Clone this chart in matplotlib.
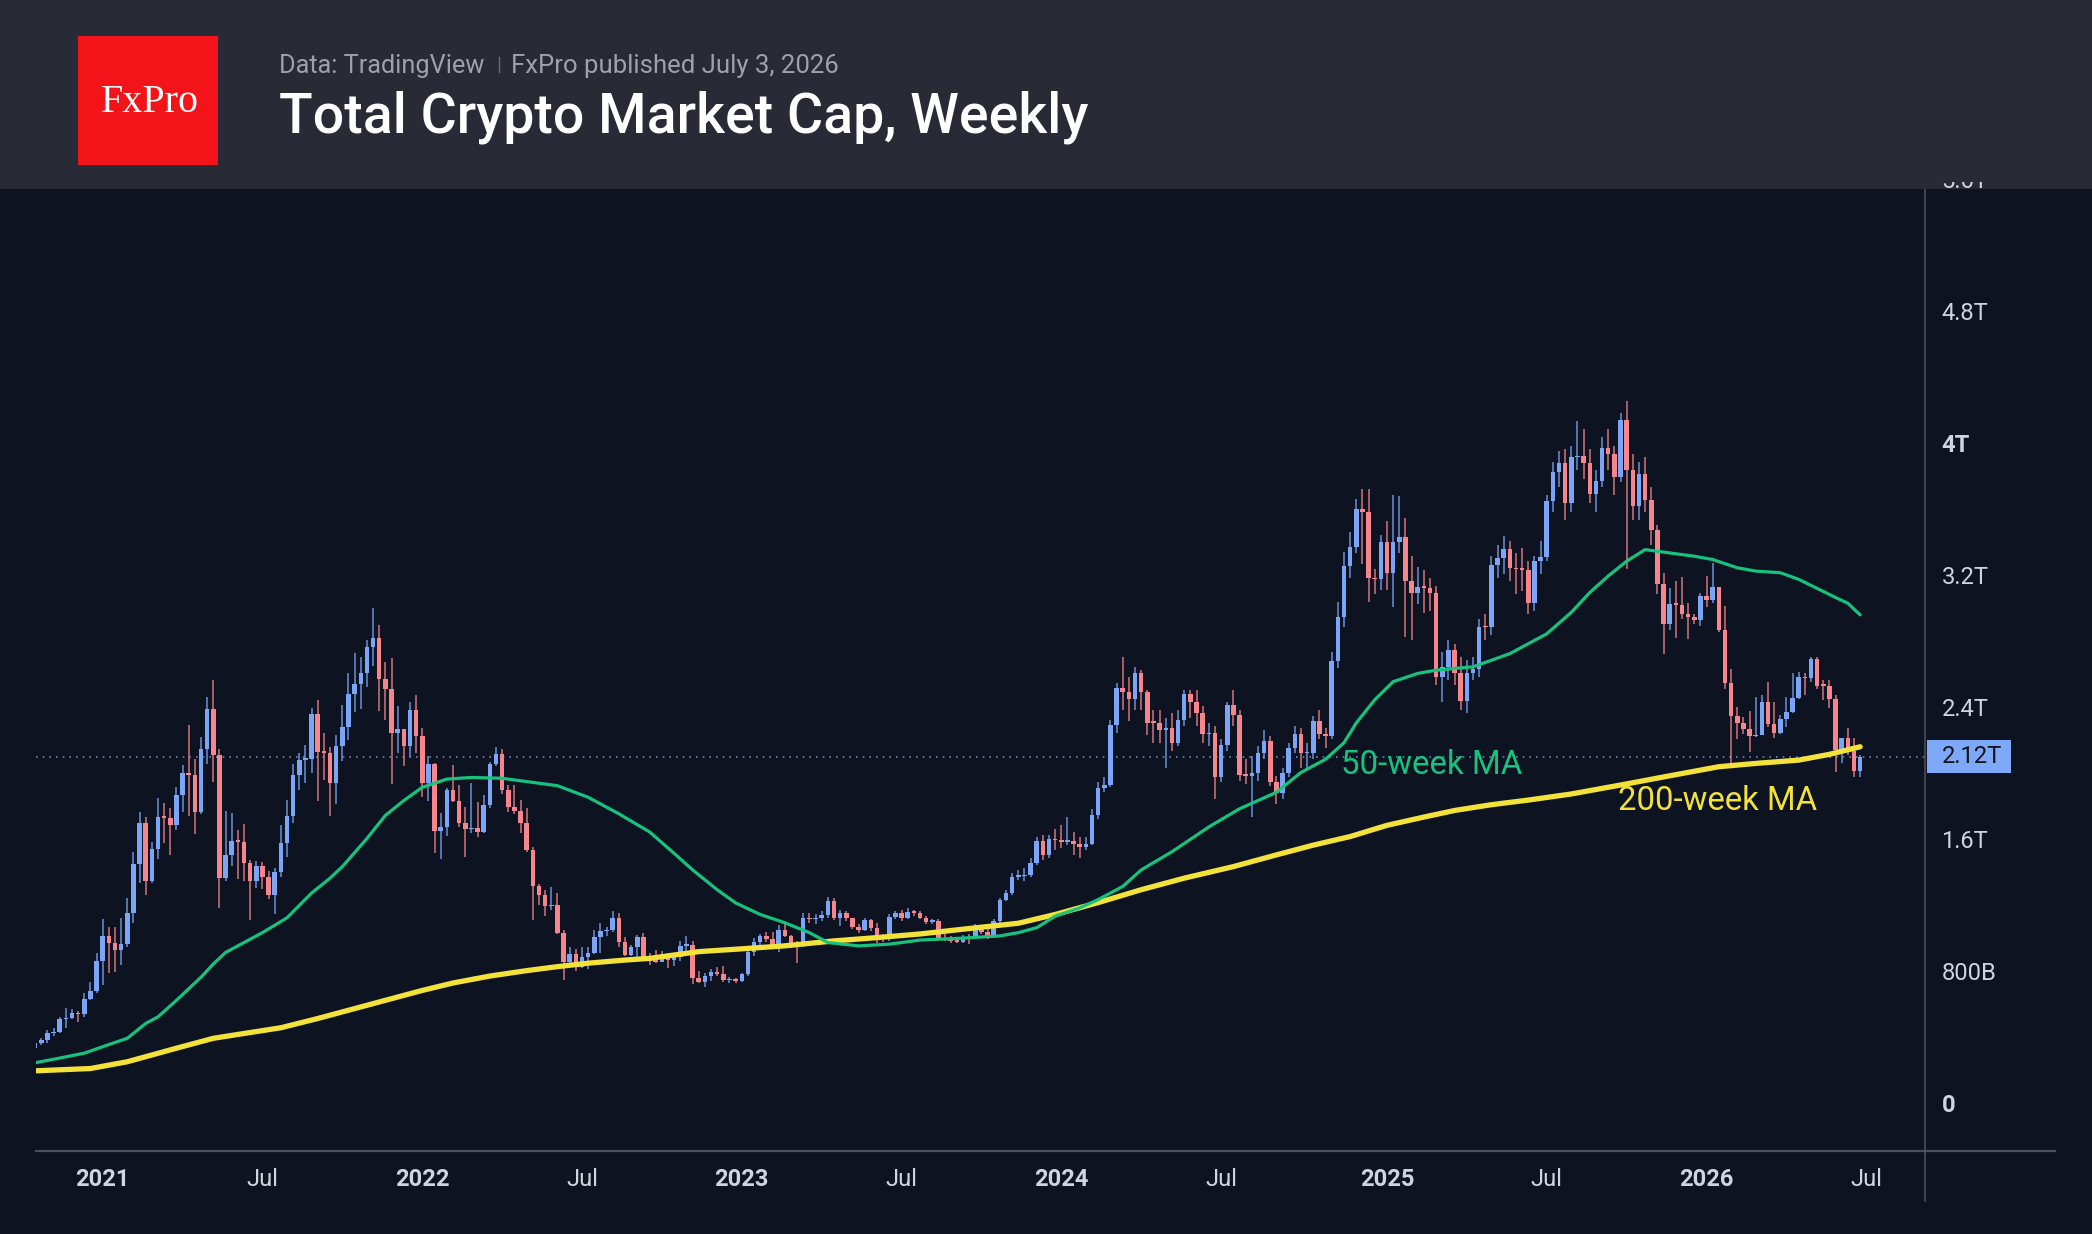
import datetime as dt
import numpy as np
import matplotlib
matplotlib.use("Agg")
import matplotlib.pyplot as plt
from matplotlib import font_manager as fm
from matplotlib.patches import Rectangle
from matplotlib.lines import Line2D
import matplotlib.transforms as mtransforms

# ---------------------------------------------------------------- data
START_WEEK = dt.date(2020, 10, 19)      # first weekly bar
FIRST_OPEN = 0.35                        # trillions USD

closes = [
    0.38, 0.40, 0.441, 0.45, 0.525, 0.535, 0.565, 0.556, 0.65, 0.696,
    0.878, 1.03, 0.99, 0.945, 0.98, 1.17, 1.466, 1.714, 1.361, 1.555,
    1.75, 1.745, 1.704, 1.882, 2.015, 2.005, 1.783, 2.16, 2.406, 2.126,
    1.383, 1.52, 1.605, 1.60, 1.47, 1.361, 1.454, 1.389, 1.28, 1.417,
    1.593, 1.758, 2.005, 2.096, 2.10, 2.372, 2.146, 2.14, 1.958, 2.18,
    2.297, 2.494, 2.554, 2.625, 2.778, 2.837, 2.584, 2.524, 2.261, 2.282,
    2.18, 2.399, 2.241, 1.958, 2.07, 1.668, 1.692, 1.914, 1.849, 1.712,
    1.676, 1.682, 1.66, 1.823, 2.07, 2.13, 1.914, 1.813, 1.785, 1.712,
    1.551, 1.333, 1.278, 1.211, 1.215, 1.046, 0.87, 0.921, 0.84, 0.904,
    0.929, 1.022, 1.06, 1.066, 1.137, 0.995, 0.915, 0.965, 1.022, 0.884,
    0.88, 0.875, 0.905, 0.884, 0.905, 0.971, 0.975, 0.777, 0.753, 0.787,
    0.812, 0.80, 0.763, 0.77, 0.76, 0.797, 0.935, 0.991, 1.029, 1.01,
    0.965, 1.066, 1.029, 0.98, 0.97, 1.137, 1.132, 1.141, 1.157, 1.242,
    1.137, 1.167, 1.137, 1.083, 1.067, 1.129, 1.078, 1.021, 1.009, 1.145,
    1.167, 1.137, 1.178, 1.17, 1.14, 1.117, 1.12, 1.015, 1.01, 1.0,
    0.995, 1.02, 1.015, 1.085, 1.056, 1.026, 1.12, 1.245, 1.292, 1.39,
    1.393, 1.40, 1.47, 1.607, 1.52, 1.615, 1.61, 1.601, 1.605, 1.585,
    1.571, 1.585, 1.762, 1.924, 1.944, 2.308, 2.53, 2.51, 2.465, 2.621,
    2.51, 2.322, 2.32, 2.277, 2.29, 2.197, 2.338, 2.494, 2.449, 2.382,
    2.251, 2.26, 1.995, 2.186, 2.429, 2.368, 2.005, 2.0, 2.019, 2.14,
    2.213, 1.965, 1.894, 2.015, 2.166, 2.253, 2.136, 2.14, 2.334, 2.253,
    2.24, 2.697, 2.96, 3.271, 3.388, 3.614, 3.60, 3.196, 3.19, 3.418,
    3.226, 3.418, 3.448, 3.182, 3.105, 3.146, 3.14, 3.105, 2.60, 2.657,
    2.762, 2.625, 2.455, 2.621, 2.645, 2.903, 2.899, 3.277, 3.317, 3.372,
    3.257, 3.25, 3.247, 3.049, 3.303, 3.328, 3.667, 3.842, 3.897, 3.654,
    3.929, 3.937, 3.897, 3.707, 3.788, 3.984, 3.95, 3.81, 4.155, 3.85,
    3.635, 3.83, 3.67, 3.489, 3.162, 2.92, 3.041, 3.035, 2.978, 2.964,
    2.944, 3.091, 3.065, 3.141, 2.883, 2.564, 2.364, 2.322, 2.283, 2.241,
    2.25, 2.449, 2.314, 2.257, 2.342, 2.386, 2.473, 2.597, 2.59, 2.706,
    2.546, 2.544, 2.463, 2.156, 2.227, 2.152, 2.031, 2.116,
]

highs = [
    0.39, 0.41, 0.46, 0.47, 0.541, 0.592, 0.585, 0.577, 0.682, 0.753,
    0.925, 1.131, 1.086, 1.086, 1.141, 1.258, 1.54, 1.778, 1.752, 1.602,
    1.864, 1.838, 1.803, 1.934, 2.065, 2.308, 2.102, 2.233, 2.479, 2.58,
    2.16, 1.789, 1.777, 1.672, 1.708, 1.49, 1.484, 1.48, 1.425, 1.439,
    1.702, 1.853, 2.071, 2.14, 2.186, 2.409, 2.459, 2.261, 2.177, 2.247,
    2.428, 2.62, 2.742, 2.722, 2.823, 3.014, 2.913, 2.691, 2.712, 2.423,
    2.282, 2.449, 2.487, 2.287, 2.122, 2.076, 1.772, 1.924, 2.065, 1.944,
    1.813, 1.958, 1.843, 1.883, 2.085, 2.177, 2.16, 1.944, 1.944, 1.853,
    1.803, 1.571, 1.345, 1.31, 1.328, 1.288, 1.066, 0.965, 0.949, 0.965,
    0.965, 1.066, 1.111, 1.086, 1.183, 1.167, 1.025, 0.975, 1.036, 1.05,
    0.929, 0.945, 0.941, 0.929, 0.925, 1.001, 1.029, 0.999, 0.82, 0.803,
    0.828, 0.84, 0.848, 0.783, 0.773, 0.803, 0.96, 1.016, 1.04, 1.054,
    1.052, 1.094, 1.10, 1.036, 1.0, 1.167, 1.17, 1.16, 1.18, 1.268,
    1.26, 1.19, 1.18, 1.14, 1.10, 1.14, 1.13, 1.11, 1.04, 1.16,
    1.18, 1.19, 1.20, 1.19, 1.18, 1.15, 1.13, 1.13, 1.04, 1.03,
    1.02, 1.035, 1.04, 1.10, 1.09, 1.07, 1.13, 1.26, 1.31, 1.41,
    1.43, 1.44, 1.50, 1.63, 1.64, 1.64, 1.68, 1.70, 1.75, 1.66,
    1.63, 1.63, 1.80, 1.96, 1.99, 2.34, 2.56, 2.717, 2.60, 2.66,
    2.64, 2.52, 2.40, 2.40, 2.35, 2.38, 2.40, 2.52, 2.52, 2.52,
    2.42, 2.32, 2.30, 2.22, 2.45, 2.52, 2.40, 2.10, 2.12, 2.18,
    2.28, 2.24, 2.0, 2.05, 2.20, 2.30, 2.29, 2.20, 2.36, 2.40,
    2.29, 2.75, 3.05, 3.357, 3.479, 3.675, 3.735, 3.735, 3.25, 3.459,
    3.543, 3.70, 3.694, 3.56, 3.33, 3.267, 3.247, 3.20, 3.15, 2.75,
    2.82, 2.80, 2.72, 2.70, 2.72, 2.95, 2.98, 3.33, 3.40, 3.45,
    3.42, 3.35, 3.38, 3.30, 3.33, 3.42, 3.70, 3.90, 3.97, 3.98,
    4.00, 4.15, 4.10, 3.98, 3.85, 4.05, 4.10, 4.0, 4.20, 4.272,
    3.95, 3.90, 3.93, 3.75, 3.52, 3.23, 3.135, 3.18, 3.202, 3.049,
    2.98, 3.11, 3.21, 3.287, 3.145, 3.029, 2.645, 2.419, 2.358, 2.394,
    2.479, 2.489, 2.57, 2.449, 2.368, 2.479, 2.624, 2.631, 2.624, 2.722,
    2.722, 2.58, 2.58, 2.489, 2.227, 2.287, 2.227, 2.126,
]

lows = [
    0.34, 0.37, 0.38, 0.424, 0.441, 0.47, 0.525, 0.51, 0.542, 0.641,
    0.682, 0.733, 0.807, 0.813, 0.854, 0.965, 1.106, 1.353, 1.278, 1.35,
    1.497, 1.595, 1.52, 1.672, 1.783, 1.759, 1.645, 1.769, 2.071, 1.964,
    1.197, 1.365, 1.454, 1.373, 1.365, 1.127, 1.318, 1.314, 1.252, 1.163,
    1.389, 1.51, 1.712, 1.915, 1.958, 2.015, 1.849, 1.975, 1.758, 1.83,
    2.092, 2.217, 2.389, 2.403, 2.536, 2.665, 2.395, 2.338, 1.95, 2.136,
    2.06, 2.116, 2.136, 1.873, 1.849, 1.531, 1.494, 1.635, 1.839, 1.692,
    1.511, 1.651, 1.631, 1.651, 1.802, 2.06, 1.89, 1.782, 1.768, 1.655,
    1.541, 1.126, 1.215, 1.151, 1.188, 1.042, 0.764, 0.844, 0.82, 0.834,
    0.828, 0.92, 0.925, 1.029, 1.056, 0.965, 0.91, 0.91, 0.893, 0.88,
    0.854, 0.864, 0.87, 0.834, 0.848, 0.88, 0.941, 0.74, 0.747, 0.723,
    0.759, 0.787, 0.753, 0.747, 0.747, 0.753, 0.787, 0.91, 0.975, 0.995,
    0.953, 0.935, 1.025, 0.96, 0.868, 0.965, 1.11, 1.10, 1.12, 1.137,
    1.127, 1.09, 1.12, 1.07, 1.05, 1.06, 1.06, 0.99, 0.995, 1.0,
    1.13, 1.12, 1.13, 1.15, 1.13, 1.10, 1.10, 1.0, 1.0, 0.99,
    0.985, 0.99, 0.98, 1.01, 1.04, 1.01, 1.02, 1.11, 1.24, 1.28,
    1.37, 1.36, 1.39, 1.46, 1.49, 1.50, 1.55, 1.56, 1.58, 1.52,
    1.50, 1.55, 1.58, 1.74, 1.90, 1.93, 2.26, 2.40, 2.33, 2.40,
    2.40, 2.25, 2.20, 2.20, 2.045, 2.15, 2.18, 2.30, 2.35, 2.30,
    2.20, 2.18, 1.86, 1.96, 2.15, 2.30, 1.97, 1.95, 1.75, 1.97,
    2.10, 1.94, 1.83, 1.86, 1.99, 2.14, 2.05, 2.05, 2.10, 2.22,
    2.17, 2.22, 2.65, 2.90, 3.20, 3.35, 3.28, 3.05, 3.10, 3.125,
    3.125, 3.02, 3.35, 2.843, 2.82, 3.04, 2.984, 3.0, 2.55, 2.45,
    2.58, 2.55, 2.40, 2.38, 2.58, 2.60, 2.82, 2.85, 3.20, 3.22,
    3.18, 3.10, 3.12, 2.98, 3.00, 3.22, 3.30, 3.60, 3.75, 3.55,
    3.60, 3.85, 3.80, 3.65, 3.60, 3.75, 3.85, 3.70, 3.78, 3.25,
    3.55, 3.55, 3.60, 3.40, 3.10, 2.738, 2.883, 2.833, 2.95, 2.827,
    2.92, 2.908, 3.025, 3.045, 2.873, 2.524, 2.055, 2.221, 2.251, 2.146,
    2.237, 2.247, 2.298, 2.227, 2.251, 2.298, 2.378, 2.465, 2.489, 2.57,
    2.524, 2.459, 2.409, 2.025, 2.076, 2.126, 1.995, 1.995,
]

# moving averages (week index, value in T)
ma50_weeks = [0, 3, 8, 12, 15, 18, 20, 23, 25, 27, 29, 31, 34, 37, 41, 45, 48,
              50, 54, 57, 60, 63, 67, 71, 76, 80, 85, 90, 95, 100, 104, 107,
              111, 114, 118, 122, 126, 129, 134, 139, 144, 150, 157, 160, 163,
              166, 170, 173, 177, 180, 185, 191, 196, 202, 206, 210, 213, 215,
              218, 221, 225, 228, 234, 240, 246, 250, 253, 256, 259, 262, 266,
              270, 273, 277, 280, 284, 287, 290, 293, 295, 297]
ma50_vals = [0.262, 0.283, 0.32, 0.372, 0.41, 0.50, 0.54, 0.64, 0.71, 0.78,
             0.86, 0.93, 0.99, 1.05, 1.14, 1.29, 1.38, 1.45, 1.62, 1.76, 1.85,
             1.93, 1.98, 1.99, 1.985, 1.965, 1.94, 1.87, 1.77, 1.66, 1.53, 1.43,
             1.31, 1.23, 1.16, 1.11, 1.05, 0.99, 0.97, 0.98, 1.005, 1.015,
             1.03, 1.05, 1.08, 1.15, 1.20, 1.25, 1.33, 1.43, 1.54, 1.69, 1.80,
             1.90, 2.02, 2.10, 2.20, 2.32, 2.46, 2.57, 2.62, 2.64, 2.66, 2.74,
             2.86, 2.99, 3.11, 3.21, 3.30, 3.37, 3.35, 3.33, 3.31, 3.26, 3.24,
             3.23, 3.19, 3.135, 3.08, 3.045, 2.975]

ma200_weeks = [0, 9, 15, 23, 29, 35, 40, 46, 52, 58, 63, 68, 74, 80, 85, 90, 96,
               100, 108, 115, 122, 130, 137, 144, 152, 160, 166, 173, 180, 187,
               195, 202, 208, 214, 220, 226, 231, 237, 243, 250, 258, 266, 274,
               280, 287, 292, 297]
ma200_vals = [0.213, 0.227, 0.268, 0.35, 0.41, 0.445, 0.474, 0.53, 0.59, 0.65,
              0.70, 0.745, 0.787, 0.82, 0.844, 0.865, 0.884, 0.894, 0.935, 0.952,
              0.97, 1.0, 1.02, 1.042, 1.075, 1.107, 1.16, 1.232, 1.31, 1.38, 1.45,
              1.521, 1.58, 1.632, 1.70, 1.75, 1.79, 1.825, 1.853, 1.89, 1.944,
              2.0, 2.055, 2.075, 2.095, 2.13, 2.176]

price_ticks = [0, 0.8, 1.6, 2.4, 3.2, 4.0, 4.8, 5.6]
price_labels = ["0", "800B", "1.6T", "2.4T", "3.2T", "4T", "4.8T", "5.6T"]
bold_price_labels = ["0", "4T"]

date_ticks = [dt.date(2021, 1, 4), dt.date(2021, 7, 5), dt.date(2022, 1, 3),
              dt.date(2022, 7, 4), dt.date(2023, 1, 2), dt.date(2023, 7, 3),
              dt.date(2024, 1, 1), dt.date(2024, 7, 1), dt.date(2025, 1, 6),
              dt.date(2025, 7, 7), dt.date(2026, 1, 5), dt.date(2026, 7, 6)]
date_labels = ["2021", "Jul", "2022", "Jul", "2023", "Jul", "2024", "Jul",
               "2025", "Jul", "2026", "Jul"]

last_price_label = "2.12T"
title = "Total Crypto Market Cap, Weekly"
source_text = "Data: TradingView"
publish_text = "FxPro published July 3, 2026"
logo_text = "FxPro"
ma50_label = "50-week MA"
ma200_label = "200-week MA"

# ---------------------------------------------------------------- style
W, H, DPI = 2092, 1234, 100
BG = "#0d1320"
HEADER = "#282b36"
LOGO_RED = "#f21418"
UP = "#7ba5f7"
DOWN = "#f7868c"
GREEN = "#17c27f"
YELLOW = "#f3e23a"
AXIS = "#4b4f5a"
TICK_TXT = "#d1d4dc"
SUB_TXT = "#9ea1aa"


def has_font(name):
    try:
        fm.findfont(fm.FontProperties(family=name), fallback_to_default=False)
        return True
    except Exception:
        return False


SANS = "Roboto" if has_font("Roboto") else "DejaVu Sans"
NARROW = "Liberation Sans Narrow" if has_font("Liberation Sans Narrow") else SANS
SERIF = "Liberation Serif" if has_font("Liberation Serif") else "DejaVu Serif"
plt.rcParams["font.family"] = [SANS, "DejaVu Sans"]


def fx(px):
    return px / W


def fy(py):
    return 1 - py / H


fig = plt.figure(figsize=(W / DPI, H / DPI), dpi=DPI, facecolor=BG)
renderer = fig.canvas.get_renderer()


def fit_width(t, target_px):
    bb = t.get_window_extent(renderer)
    if bb.width > 0:
        t.set_fontsize(t.get_fontsize() * target_px / bb.width)
    return t


# plot area in pixels
PX_L, PX_R, PX_T, PX_B = 36, 1925, 189, 1151
ax = fig.add_axes([fx(PX_L), fy(PX_B), (PX_R - PX_L) / W, (PX_B - PX_T) / H])
ax.set_facecolor(BG)
for s in ax.spines.values():
    s.set_visible(False)
ax.set_xticks([])
ax.set_yticks([])

BAR_PX = 6.145          # pixel distance between weekly bars
BAR0_PX = 35.1          # pixel position of first bar
ZERO_PX = 1106          # pixel row of value 0
PX_PER_T = 165.1
ax.set_xlim((PX_L - BAR0_PX) / BAR_PX, (PX_R - BAR0_PX) / BAR_PX)
ax.set_ylim((ZERO_PX - PX_B) / PX_PER_T, (ZERO_PX - PX_T) / PX_PER_T)

# ---------------------------------------------------------------- candles
C = np.array(closes)
Hh = np.array(highs)
Ll = np.array(lows)
O = np.r_[FIRST_OPEN, C[:-1]]
idx = np.arange(len(C))
up = C >= O
cols = np.where(up, UP, DOWN)

ax.vlines(idx, Ll, Hh, colors=cols, linewidth=1.1, alpha=0.85, zorder=2)
body_lo = np.minimum(O, C)
body_h = np.maximum(np.abs(C - O), 0.009)
ax.bar(idx, body_h, bottom=body_lo, width=0.74, color=cols,
       edgecolor="none", linewidth=0, zorder=3)

# moving averages
ax.plot(ma200_weeks, ma200_vals, color=YELLOW, lw=3.8, zorder=5,
        solid_capstyle="round", solid_joinstyle="round")
ax.plot(ma50_weeks, ma50_vals, color=GREEN, lw=2.3, zorder=6,
        solid_capstyle="round", solid_joinstyle="round")

# last price dotted line
ax.axhline(C[-1], color="#6f81aa", lw=1.2, ls=(0, (1, 3)), zorder=1)

# MA labels
t50 = fig.text(fx(1341), fy(765), ma50_label, color=GREEN, fontsize=21,
               ha="left", va="center", zorder=8)
fit_width(t50, 181)
t200 = fig.text(fx(1618), fy(801), ma200_label, color=YELLOW, fontsize=21,
                ha="left", va="center", zorder=8)
fit_width(t200, 199)

# ---------------------------------------------------------------- price scale
lab_tr = mtransforms.blended_transform_factory(ax.transAxes, ax.transData)
lab_x = (1941.5 - PX_L) / (PX_R - PX_L)
ref = ax.text(lab_x, price_ticks[1], price_labels[1], transform=lab_tr,
              color=TICK_TXT, fontsize=16, ha="left", va="center", clip_on=False)
fit_width(ref, 55)
psize = ref.get_fontsize()
ref.remove()
# clip region for labels partly hidden by the header
clip_box = mtransforms.Bbox.from_extents(0, 0, W, H - 182)
for v, lab in zip(price_ticks, price_labels):
    t = fig.text(fx(1941.5), fy(ZERO_PX - v * PX_PER_T), lab, color=TICK_TXT,
                 fontsize=psize,
                 fontweight="bold" if lab in bold_price_labels else "normal",
                 ha="left", va="center", zorder=11)
    t.set_clip_box(clip_box)
    t.set_clip_on(True)

# current price tag
ypx = ZERO_PX - C[-1] * PX_PER_T
fig.add_artist(Rectangle((fx(1927), fy(ypx + 16.5)), 84 / W, 33 / H,
                         transform=fig.transFigure, facecolor="#7ea8f8",
                         edgecolor="none", zorder=12))
fig.text(fx(1941.5), fy(ypx), last_price_label, color="#10131c", fontsize=psize,
         ha="left", va="center", zorder=13)

# ---------------------------------------------------------------- time scale
date_tr = mtransforms.blended_transform_factory(ax.transData, ax.transAxes)
date_y = (PX_B - 1180) / (PX_B - PX_T)
tick_idx = [(d - START_WEEK).days / 7 for d in date_ticks]
ref = ax.text(0, date_y, "2021", transform=date_tr, fontsize=20,
              family=[NARROW, SANS], fontweight="bold", clip_on=False)
fit_width(ref, 54)
dsize = ref.get_fontsize()
ref.remove()
for xi, lab in zip(tick_idx, date_labels):
    ax.text(xi, date_y, lab, transform=date_tr, color=TICK_TXT, fontsize=dsize,
            family=[NARROW, SANS],
            fontweight="normal" if lab == "Jul" else "bold",
            ha="center", va="center", clip_on=False)

fig.add_artist(Line2D([fx(PX_L), fx(2055)], [fy(PX_B), fy(PX_B)],
                      transform=fig.transFigure, color=AXIS, lw=1.6, zorder=4))
fig.add_artist(Line2D([fx(PX_R), fx(PX_R)], [fy(PX_T), fy(1201)],
                      transform=fig.transFigure, color=AXIS, lw=1.2, zorder=4))

# ---------------------------------------------------------------- header
fig.add_artist(Rectangle((0, fy(189)), 1, 189 / H, transform=fig.transFigure,
                         facecolor=HEADER, edgecolor="none", zorder=10))
fig.add_artist(Rectangle((fx(78), fy(165)), 140 / W, 129 / H,
                         transform=fig.transFigure, facecolor=LOGO_RED,
                         edgecolor="none", zorder=11))
lt = fig.text(fx(150), fy(111.5), logo_text, color="white", fontsize=29,
              family=[SERIF, "DejaVu Serif"], ha="center", va="baseline",
              zorder=12)
fit_width(lt, 98)

s1 = fig.text(fx(279), fy(72.5), source_text, color=SUB_TXT, fontsize=17,
              ha="left", va="baseline", zorder=12)
fit_width(s1, 205)
s2 = fig.text(fx(511), fy(72.5), publish_text, color=SUB_TXT, fontsize=17,
              ha="left", va="baseline", zorder=12)
fit_width(s2, 329)
fig.add_artist(Line2D([fx(499), fx(499)], [fy(57), fy(72)],
                      transform=fig.transFigure, color="#6b6e78", lw=1.0,
                      zorder=12))

tt = fig.text(fx(279), fy(132), title, color="white", fontsize=38,
              fontweight="medium", ha="left", va="baseline", zorder=12)
fit_width(tt, 809)

fig.savefig("out.png", dpi=DPI, facecolor=BG)
